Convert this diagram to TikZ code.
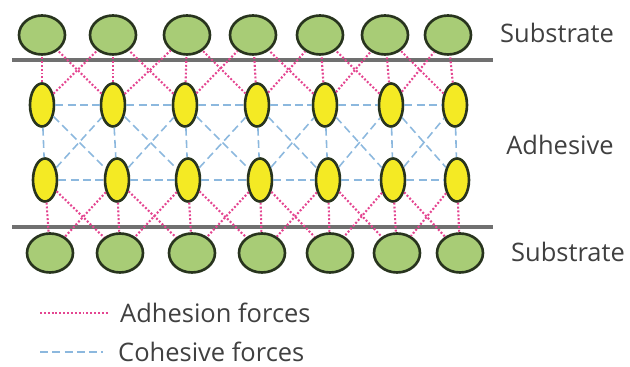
\documentclass[tikz,border=0pt]{standalone}
\usepackage{fontspec}
\setmainfont{Open Sans}
\usetikzlibrary{shapes.geometric}

\definecolor{grainfill}{RGB}{168,204,118}
\definecolor{grainedge}{RGB}{40,52,30}
\definecolor{blobfill}{RGB}{244,234,36}
\definecolor{adhcol}{RGB}{228,70,145}
\definecolor{cohcol}{RGB}{140,184,222}
\definecolor{linegray}{RGB}{112,112,112}

\begin{document}
\begin{tikzpicture}[x=0.02cm,y=-0.02cm,
    grain/.style={ellipse,draw=grainedge,line width=1.5pt,fill=grainfill,
      minimum width=0.92cm,minimum height=0.78cm,inner sep=0pt},
    blob/.style={ellipse,draw=grainedge,line width=1.5pt,fill=blobfill,
      minimum width=0.48cm,minimum height=0.86cm,inner sep=0pt},
    adhesion/.style={draw=adhcol,line width=1.2pt,dash pattern=on 1.1pt off 1.1pt},
    cohesion/.style={draw=cohcol,line width=0.9pt,dash pattern=on 4.5pt off 2.5pt},
    layerlabel/.style={text=black!75,font=\fontsize{14.5}{17}\selectfont}]
  \useasboundingbox (0,0) rectangle (630,367);
  % substrate and adhesive particles
  \foreach \x [count=\i] in {42,113,187,253,320,385,448}
    \node[grain] (gt\i) at (\x,35) {};
  \foreach \x [count=\i] in {42,113,185,257,325,391,455}
    \node[blob] (ya\i) at (\x,105) {};
  \foreach \x [count=\i] in {45,117,188,260,328,393,457}
    \node[blob] (yb\i) at (\x,180) {};
  \foreach \x [count=\i] in {50,120,192,262,330,397,460}
    \node[grain] (gb\i) at (\x,253) {};
  % interfaces
  \draw[linegray,line width=2.1pt] (12,60) -- (493,60);
  \draw[linegray,line width=2.1pt] (12,227) -- (493,227);
  % adhesion forces
  \foreach \i in {1,...,7} {
    \draw[adhesion] (ya\i) -- (gt\i);
    \draw[adhesion] (yb\i) -- (gb\i);
  }
  \foreach \i in {1,...,6} {
    \pgfmathtruncatemacro{\j}{\i+1}
    \draw[adhesion] (ya\i) -- (gt\j);
    \draw[adhesion] (ya\j) -- (gt\i);
    \draw[adhesion] (yb\i) -- (gb\j);
    \draw[adhesion] (yb\j) -- (gb\i);
  }
  % cohesive forces
  \foreach \i in {1,...,7}
    \draw[cohesion] (ya\i) -- (yb\i);
  \foreach \i in {1,...,6} {
    \pgfmathtruncatemacro{\j}{\i+1}
    \draw[cohesion] (ya\i) -- (ya\j);
    \draw[cohesion] (yb\i) -- (yb\j);
    \draw[cohesion] (ya\i) -- (yb\j);
    \draw[cohesion] (yb\i) -- (ya\j);
  }
  % layer names
  \node[layerlabel] (sub-top) at (557,33) {Substrate};
  \node[layerlabel] (adh-name) at (560,145) {Adhesive};
  \node[layerlabel] (sub-bot) at (568,252) {Substrate};
  % legend
  \coordinate (adh-a) at (40,313);
  \coordinate (adh-b) at (108,313);
  \draw[adhesion] (adh-a) -- (adh-b);
  \node[layerlabel,anchor=west] (adh-text) at (114,313) {Adhesion forces};
  \coordinate (coh-a) at (40,352);
  \coordinate (coh-b) at (103,352);
  \draw[cohesion] (coh-a) -- (coh-b);
  \node[layerlabel,anchor=west] (coh-text) at (112,352) {Cohesive forces};
\end{tikzpicture}
\end{document}
